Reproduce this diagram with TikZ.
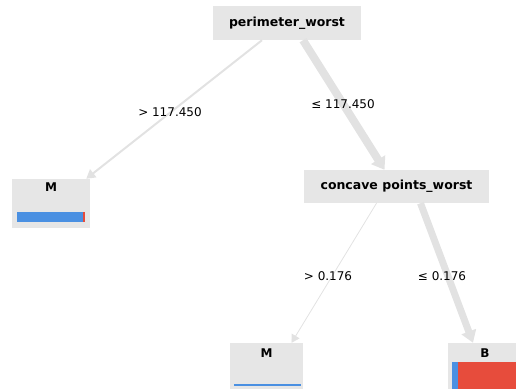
\documentclass[tikz,border=0pt]{standalone}
\usepackage{fontspec}
\setmainfont{DejaVu Sans}
\usetikzlibrary{arrows.meta,calc}
\definecolor{boxgray}{RGB}{230,230,230}
\definecolor{edgegray}{RGB}{226,226,226}
\definecolor{barblue}{RGB}{74,144,226}
\definecolor{barred}{RGB}{231,76,60}
\tikzset{
  splitbox/.style={fill=boxgray, draw=none, inner sep=0pt, font=\bfseries\fontsize{12.5}{14}\selectfont},
  leafbox/.style={fill=boxgray, draw=none, inner sep=0pt},
  leaftext/.style={font=\bfseries\fontsize{12}{14}\selectfont, inner sep=0pt},
  edgelabel/.style={font=\fontsize{12}{14}\selectfont, inner sep=0pt},
  thinedge/.style={draw=edgegray, line width=2pt, -{Triangle[width=10pt,length=9pt]}},
  hairedge/.style={draw=edgegray, line width=0.8pt, -{Triangle[width=9pt,length=8pt]}},
  thickedge/.style={draw=edgegray, line width=8pt, -{Triangle[width=16pt,length=12pt]}},
  thick2edge/.style={draw=edgegray, line width=7pt, -{Triangle[width=15pt,length=12pt]}},
}
\begin{document}
\begin{tikzpicture}[x=1pt,y=-1pt]
\useasboundingbox (0,0) rectangle (516,388);
\clip (0,0) rectangle (516,388);
% split nodes
\node[splitbox, minimum width=148pt, minimum height=34pt] (root) at (287,23) {perimeter\_worst};
\node[splitbox, minimum width=185pt, minimum height=33pt] (conc) at (396.5,186.5) {concave points\_worst};
% leaves
\node[leafbox, minimum width=78pt, minimum height=49pt] (leftM) at (51,203.5) {};
\node[leaftext] at (51,187) {M};
\fill[barblue] (17,212) rectangle (83,222);
\fill[barred] (83,212) rectangle (84.5,222);
\node[leafbox, minimum width=73pt, minimum height=50pt] (midM) at (266.5,368) {};
\node[leaftext] at (266.5,353) {M};
\fill[barblue] (234,384) rectangle (301,386);
\node[leafbox, minimum width=74pt, minimum height=50pt] (rightB) at (485,368) {};
\node[leaftext] at (485,353) {B};
\fill[barblue] (452,362) rectangle (458,393);
\fill[barred] (458,362) rectangle (522,393);
% edges
\draw[thinedge] ([xshift=-25pt]root.south) -- ([xshift=-4pt]leftM.north east);
\draw[thickedge] ([xshift=16pt]root.south) -- ([xshift=-12pt]conc.north);
\draw[hairedge] ([xshift=-20pt]conc.south) -- ([xshift=25pt]midM.north);
\draw[thick2edge] ([xshift=24pt]conc.south) -- ([xshift=-12pt]rightB.north);
% edge labels
\node[edgelabel] (l1) at (170,112) {> 117.450};
\node[edgelabel] (l2) at (343,104) {≤ 117.450};
\node[edgelabel] (l3) at (328,276) {> 0.176};
\node[edgelabel] (l4) at (442,276) {≤ 0.176};
\end{tikzpicture}
\end{document}
